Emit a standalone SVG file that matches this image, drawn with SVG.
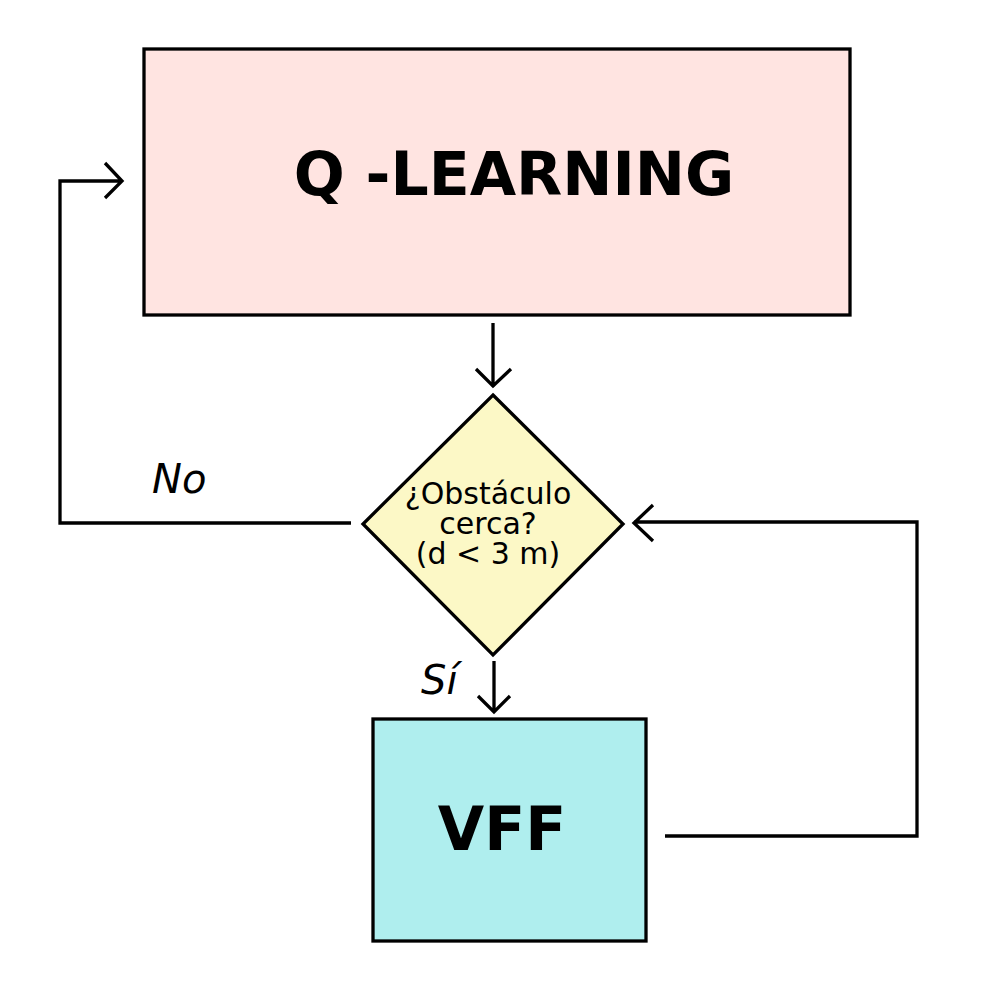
<svg xmlns="http://www.w3.org/2000/svg" width="1000" height="1000" viewBox="0 0 1000 1000">
<style>
.box{stroke:#000;stroke-width:3.3}
.conn{fill:none;stroke:#000;stroke-width:3.3}
.big{font-family:"DejaVu Sans",sans-serif;font-weight:bold;font-size:60px;text-anchor:middle}
.dt{font-family:"DejaVu Sans",sans-serif;font-size:30px;text-anchor:middle}
.lbl{font-family:"DejaVu Sans",sans-serif;font-style:italic;font-size:40px}
</style>
<rect width="1000" height="1000" fill="#fff"/>
<g id="qlearning">
<rect class="box" x="144" y="49" width="706" height="266" fill="#ffe4e1"/>
<text class="big" x="514" y="195">Q -LEARNING</text>
</g>
<g id="decision">
<polygon class="box" points="493,395 623,524 493,655 363,524" fill="#fcf8c6"/>
<text class="dt" x="488" y="504">¿Obstáculo</text>
<text class="dt" x="488" y="534">cerca?</text>
<text class="dt" x="488" y="564">(d &lt; 3 m)</text>
</g>
<g id="vff">
<rect class="box" x="373" y="719" width="273" height="222" fill="#afeeee"/>
<text class="big" x="502" y="850">VFF</text>
</g>
<g id="connectors">
<path class="conn" d="M493,323 V387 M476,369 L493,386 L511,369"/>
<path class="conn" d="M351,523 H60 V181 H122 M105,163 L122,181 L105,198"/>
<path class="conn" d="M494,661 V712 M478,696 L494,712 L510,696"/>
<path class="conn" d="M665,836 H917 V522 H634 M653,505 L634,523 L653,541"/>
<text class="lbl" x="152" y="493">No</text>
<text class="lbl" x="421" y="694">Sí</text>
</g>
</svg>
